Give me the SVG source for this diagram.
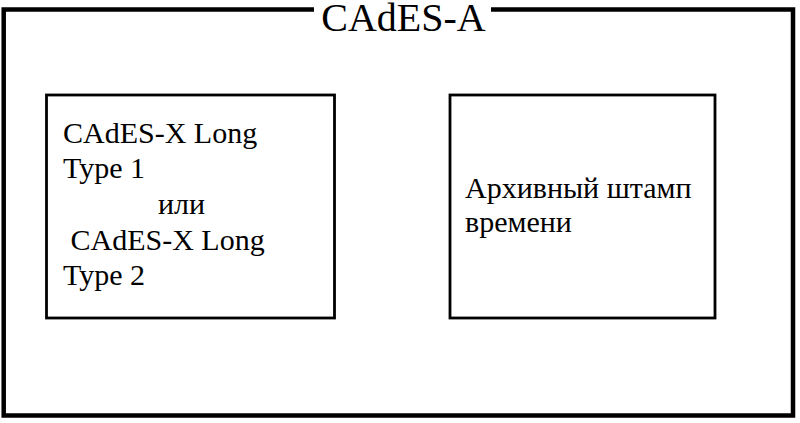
<svg xmlns="http://www.w3.org/2000/svg" width="800" height="423" viewBox="0 0 800 423">
  <style>
    .frame { fill: none; stroke: #000; }
    text { font-family: 'Liberation Serif', 'Times New Roman', serif; fill: #000; }
    .body { font-size: 30px; }
    .title { font-size: 40px; }
  </style>
  <rect x="0" y="0" width="800" height="423" fill="#fff"/>
  <g id="cades-a">
    <path class="frame" stroke-width="4.5" d="M314,9.5 H3.7 V415.5 H793 V9.5 H491"/>
    <text class="title" x="403.5" y="31" text-anchor="middle">CAdES-A</text>
  </g>
  <g id="cades-x-long">
    <rect class="frame" stroke-width="2.8" x="46.5" y="95" width="288" height="223"/>
    <text class="body" x="63" y="143">CAdES-X Long</text>
    <text class="body" x="63" y="178">Type 1</text>
    <text class="body" x="158" y="214">или</text>
    <text class="body" x="70.5" y="250">CAdES-X Long</text>
    <text class="body" x="63" y="285">Type 2</text>
  </g>
  <g id="archive-timestamp">
    <rect class="frame" stroke-width="2.8" x="450" y="95" width="265" height="223"/>
    <text class="body" x="465" y="198" font-size="30.5">Архивный штамп</text>
    <text class="body" x="465" y="232" font-size="30.5">времени</text>
  </g>
  <g id="connectors"/>
</svg>
